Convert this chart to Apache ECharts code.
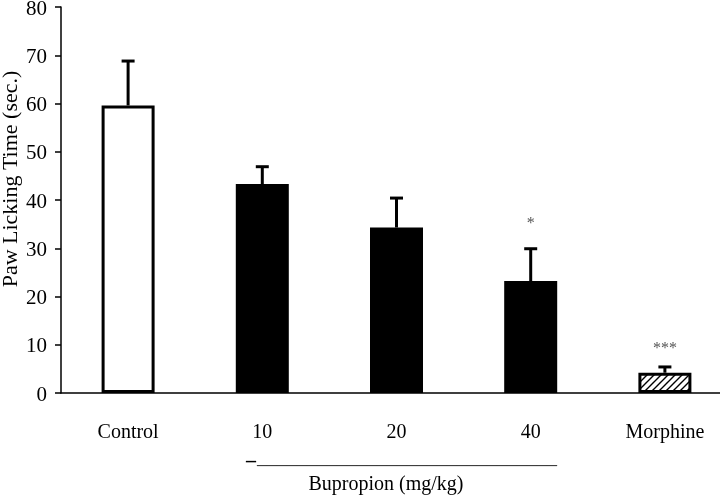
<!DOCTYPE html>
<html>
<head>
<meta charset="utf-8">
<script src="https://cdn.jsdelivr.net/npm/echarts@6/dist/echarts.min.js"></script>
<style>
html,body{margin:0;padding:0;background:#fff;overflow:hidden;width:720px;height:496px;}
#chart{width:732px;height:496px;}
</style>
</head>
<body>
<div id="chart"></div>
<script>
var categories = ['Control', '10', '20', '40', 'Morphine'];
var means = [59.6, 43.3, 34.3, 23.2, 4.2];
var sems = [9.2, 3.6, 6.1, 6.7, 1.2];
var sigMarks = ['', '', '', '*', '***'];
var sigValues = [null, null, null, 35.1, 9.1];
var yTicks = [0, 10, 20, 30, 40, 50, 60, 70, 80];

var FONT = '"Liberation Serif", "Times New Roman", serif';

function hatchPattern() {
  var c = document.createElement('canvas');
  c.width = 7; c.height = 7;
  var ctx = c.getContext('2d');
  ctx.fillStyle = '#fff';
  ctx.fillRect(0, 0, 7, 7);
  ctx.strokeStyle = '#000';
  ctx.lineWidth = 1.4;
  ctx.beginPath();
  ctx.moveTo(-1, 8); ctx.lineTo(8, -1);
  ctx.moveTo(-1, 1); ctx.lineTo(1, -1);
  ctx.moveTo(6, 8); ctx.lineTo(8, 6);
  ctx.stroke();
  return c;
}

var barStyles = [
  {color: '#fff'},
  {color: '#000'},
  {color: '#000'},
  {color: '#000'},
  {color: {image: hatchPattern(), repeat: 'repeat'}}
];

var chart = echarts.init(document.getElementById('chart'), null, {renderer: 'canvas', width: 732, height: 496});

var option = {
  animation: false,
  backgroundColor: '#fff',
  grid: {left: 61, top: 7, bottom: 103, right: 0, containLabel: false, outerBoundsMode: 'none'},
  xAxis: {
    type: 'category',
    data: categories,
    boundaryGap: true,
    axisLine: {lineStyle: {color: '#000', width: 1.5}},
    axisTick: {show: false},
    axisLabel: {color: '#000', fontFamily: FONT, fontSize: 20, margin: 30}
  },
  yAxis: {
    type: 'value',
    min: yTicks[0],
    max: yTicks[yTicks.length - 1],
    interval: 10,
    splitLine: {show: false},
    axisLine: {show: true, lineStyle: {color: '#000', width: 1.5}},
    axisTick: {show: true, length: 6, lineStyle: {color: '#000', width: 1.5}},
    axisLabel: {color: '#000', fontFamily: FONT, fontSize: 21, margin: 14,
      verticalAlign: 'top', lineHeight: 4}
  },
  series: [
    {
      type: 'bar',
      barWidth: 53,
      data: means.map(function (v, i) {
        return {
          value: v,
          itemStyle: {
            color: barStyles[i].color,
            borderColor: '#000',
            borderWidth: 3
          }
        };
      })
    },
    {
      type: 'custom',
      z: 3,
      data: means.map(function (v, i) { return [i, v, sems[i]]; }),
      renderItem: function (params, api) {
        var x = api.value(0), m = api.value(1), s = api.value(2);
        var base = api.coord([x, m]);
        var top = api.coord([x, m + s]);
        var children = [
          {type: 'line', shape: {x1: top[0], y1: base[1], x2: top[0], y2: top[1]},
            style: {stroke: '#000', lineWidth: 3}},
          {type: 'line', shape: {x1: top[0] - 6.5, y1: top[1], x2: top[0] + 6.5, y2: top[1]},
            style: {stroke: '#000', lineWidth: 3}}
        ];
        var idx = params.dataIndex;
        if (sigMarks[idx]) {
          var sp = api.coord([x, sigValues[idx]]);
          children.push({type: 'text', x: sp[0], y: sp[1],
            style: {text: sigMarks[idx], fill: '#555', font: '16px ' + FONT,
              align: 'center', verticalAlign: 'middle'}});
        }
        return {type: 'group', children: children};
      }
    }
  ],
  graphic: [
    {type: 'text', x: 11, y: 179, rotation: Math.PI / 2,
      style: {text: 'Paw Licking Time (sec.)', fill: '#000', font: '22px ' + FONT,
        align: 'center', verticalAlign: 'middle'}},
    {type: 'text', x: 246, y: 462,
      style: {text: '\u2013', fill: '#000', font: 'bold 20px ' + FONT,
        align: 'left', verticalAlign: 'middle'}},
    {type: 'text', x: 257, y: 458,
      style: {text: '______________________________', fill: '#333', font: '20px ' + FONT,
        align: 'left', verticalAlign: 'middle'}},
    {type: 'text', x: 386, y: 485,
      style: {text: 'Bupropion (mg/kg)', fill: '#000', font: '20px ' + FONT,
        align: 'center', verticalAlign: 'middle'}}
  ]
};
chart.setOption(option);
</script>
</body>
</html>
